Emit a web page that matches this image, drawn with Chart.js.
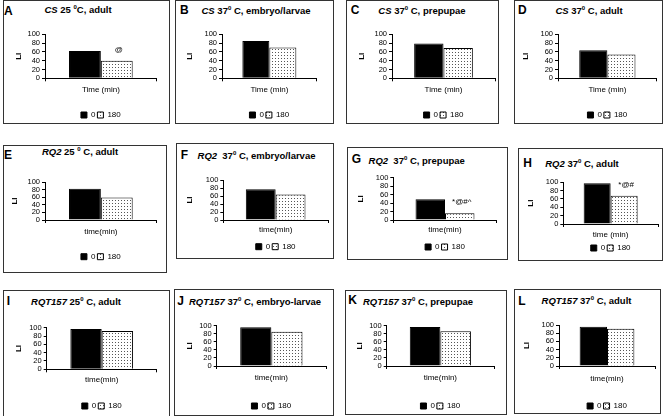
<!DOCTYPE html>
<html>
<head>
<meta charset="utf-8">
<script src="https://cdn.jsdelivr.net/npm/chart.js@4.4.1/dist/chart.umd.min.js"></script>
<style>
body { margin: 0; background: #fff; width: 664px; height: 416px; position: relative; overflow: hidden; font-family: "Liberation Sans", Arial, sans-serif; color: #000; }
.box { position: absolute; border: 1px solid #333; box-sizing: border-box; }
.ttl { position: absolute; transform: translate(-50%, -50%); font-weight: bold; font-size: 9.5px; white-space: nowrap; }
.ttl sup { font-size: 6px; vertical-align: 4px; line-height: 0; }
.let { position: absolute; transform: translateY(-50%); font-weight: bold; font-size: 12px; line-height: 1; }
canvas { position: absolute; }
</style>
</head>
<body>
<script>
// data
const panelLetters = ['A', 'B', 'C', 'D', 'E', 'F', 'G', 'H', 'I', 'J', 'K', 'L'];
const panelTitles = [
    '<i>CS</i> 25 <sup>0</sup>C, adult',
    '<i>CS</i> 37<sup>0</sup> C, embryo/larvae',
    '<i>CS</i> 37<sup>0</sup> C, prepupae',
    '<i>CS</i> 37<sup>0</sup> C, adult',
    '<i>RQ2</i> 25 <sup>0</sup> C, adult',
    '<i>RQ2</i>&nbsp; 37<sup>0</sup> C, embryo/larvae',
    '<i>RQ2</i>&nbsp; 37<sup>0</sup> C, prepupae',
    '<i>RQ2</i> 37<sup>0</sup> C, adult',
    '<i>RQT157</i> 25<sup>0</sup> C, adult',
    '<i>RQT157</i> 37<sup>0</sup> C, embryo-larvae',
    '<i>RQT157</i> 37<sup>0</sup> C, prepupae',
    '<i>RQT157</i> 37<sup>0</sup> C, adult'
];
const timeLabels = ['Time (min)', 'Time (min)', 'Time (min)', 'Time (min)',
    'time(min)', 'time(min)', 'time(min)', 'time (min)',
    'time(min)', 'time(min)', 'time(min)', 'time(min)'];
const minutes = ['0', '180'];
const li0 = [62, 85, 79, 64, 82, 77, 49, 98, 97, 96, 97, 96];
const li180 = [40, 70, 69, 54, 59, 64, 16, 68, 92, 85, 86, 91];
const marks = ['@', '', '', '', '', '', '*@#^', '*@#', '', '', '', ''];
const yMax = 100;
const yStep = 20;

// layout of each panel (page pixels)
// box: border x0,y0,x1,y1 / frame: y axis x, y of max, x axis end, y of zero
const boxes = [
    [3, 0, 169, 123], [175, 0, 333, 123], [346, 0, 498, 123], [514, 0, 662, 123],
    [3, 145, 166, 272], [176, 143, 333, 258], [347, 147, 507, 259], [518, 148, 662, 260],
    [3, 290, 169, 416], [174, 289, 333, 415], [345, 290, 506, 414], [514, 289, 660, 413]
];
const frames = [
    [45, 34.3, 156.7, 78.3], [222, 34.3, 316.7, 78.3], [392, 34.3, 495, 78.3], [558, 34.3, 656.7, 78.3],
    [45, 182, 156.7, 220], [223.3, 180, 328, 220], [393.3, 177.7, 496.7, 220], [563.3, 182.3, 658, 224],
    [46.7, 327.7, 156.7, 369.3], [216.7, 325.7, 326, 366], [386.7, 325.7, 494, 366], [559, 325, 655, 366]
];
// LI x, x title y, legend y, title x, title y, letter x, letter y
const spots = [
    [18.3, 90, 115, 78, 9, 4, 11], [189.3, 90, 115, 256, 9.7, 180, 10],
    [361.7, 90, 115, 422, 9.7, 350.7, 10], [525.7, 90, 115, 589, 9.7, 518, 10],
    [15, 231.7, 256.7, 80, 150.7, 4, 155], [190, 230, 246.7, 256.5, 155, 180.7, 155],
    [360.7, 230, 247, 416.7, 160, 351.7, 159.3], [531, 235, 248, 582, 163.3, 523.3, 163.3],
    [18.3, 380, 406, 76, 300.7, 6.7, 300.7], [190, 378, 406, 255, 300.7, 177.3, 300.7],
    [360, 378, 406, 418, 300.7, 348.3, 300], [526.7, 379, 406, 586.5, 300, 518.3, 300.7]
];

Chart.defaults.font.family = '"Liberation Sans", Arial, sans-serif';
Chart.defaults.color = '#000';

function dotPattern() {
    const c = document.createElement('canvas');
    c.width = 3;
    c.height = 3;
    const g = c.getContext('2d');
    g.fillStyle = '#fff';
    g.fillRect(0, 0, 3, 3);
    g.fillStyle = '#555';
    g.fillRect(1, 1, 1, 1);
    return g.createPattern(c, 'repeat');
}

// significance marks above the 180 min bar
const marksPlugin = {
    id: 'marks',
    afterDatasetsDraw(chart, args, opts) {
        if (!opts.text) return;
        const bar = chart.getDatasetMeta(1).data[0];
        const ctx = chart.ctx;
        ctx.save();
        ctx.font = '8px "Liberation Sans", Arial, sans-serif';
        ctx.fillStyle = '#000';
        ctx.textAlign = 'center';
        ctx.textBaseline = 'middle';
        ctx.fillText(opts.text, bar.x + 2, bar.y - 11);
        ctx.restore();
    }
};

const legendItemH = 8, legendPad = 2;
const legendH = legendItemH + legendPad + 10;

panelLetters.forEach(function (letter, i) {
    const [x0, y0, x1, y1] = boxes[i];
    const [ax, top, ax1, bottom] = frames[i];
    const [liX, xtY, lgY, tX, tY, lX, lY] = spots[i];

    const box = document.createElement('div');
    box.className = 'box';
    box.style.left = x0 + 'px';
    box.style.top = y0 + 'px';
    box.style.width = (x1 - x0 + 1) + 'px';
    box.style.height = (y1 - y0 + 1) + 'px';
    document.body.appendChild(box);

    const lab = document.createElement('div');
    lab.className = 'let';
    lab.style.left = lX + 'px';
    lab.style.top = lY + 'px';
    lab.textContent = letter;
    document.body.appendChild(lab);

    const ttl = document.createElement('div');
    ttl.className = 'ttl';
    ttl.style.left = tX + 'px';
    ttl.style.top = tY + 'px';
    ttl.innerHTML = panelTitles[i];
    document.body.appendChild(ttl);

    const w = x1 - x0;
    const xH = lgY - bottom - legendPad - legendItemH / 2;
    const h = Math.ceil(bottom - y0 + xH + legendH);
    const padB = h - (bottom - y0) - xH - legendH;
    const yW = ax - x0;
    const padR = w - (ax1 - x0);

    const cv = document.createElement('canvas');
    cv.width = w;
    cv.height = h;
    cv.style.left = x0 + 'px';
    cv.style.top = y0 + 'px';
    document.body.appendChild(cv);

    new Chart(cv, {
        type: 'bar',
        data: {
            labels: [''],
            datasets: [{
                label: minutes[0],
                data: [li0[i]],
                backgroundColor: '#000',
                borderColor: '#000',
                borderWidth: 1,
                categoryPercentage: 0.57,
                barPercentage: 1
            }, {
                label: minutes[1],
                data: [li180[i]],
                backgroundColor: dotPattern(),
                borderColor: '#000',
                borderWidth: 1,
                categoryPercentage: 0.57,
                barPercentage: 1
            }]
        },
        options: {
            responsive: false,
            animation: false,
            layout: { padding: { left: 0, top: top - y0, right: padR, bottom: padB } },
            plugins: {
                legend: {
                    position: 'bottom',
                    fullSize: false,
                    labels: { boxWidth: 6, boxHeight: 6, padding: legendPad, font: { size: 8 } }
                },
                tooltip: { enabled: false },
                marks: { text: marks[i] }
            },
            scales: {
                x: {
                    grid: { drawOnChartArea: false, tickLength: 3, color: '#000' },
                    border: { color: '#000' },
                    ticks: { display: false },
                    title: {
                        display: true,
                        text: timeLabels[i],
                        font: { size: 8 },
                        padding: { top: 0, bottom: xH - (xtY - bottom) - 4.8 }
                    },
                    afterFit(s) { s.height = xH; s.paddingLeft = 0; s.paddingRight = 0; }
                },
                y: {
                    min: 0,
                    max: yMax,
                    ticks: { stepSize: yStep, autoSkip: false, padding: 2, font: { size: 7.5 } },
                    grid: { drawOnChartArea: false, tickLength: 3, color: '#000' },
                    border: { color: '#000' },
                    title: {
                        display: true,
                        text: 'LI',
                        font: { size: 8, weight: 'bold' },
                        padding: { top: liX - x0 - 4.8, bottom: 0 }
                    },
                    afterFit(s) { s.width = yW; s.paddingTop = 0; s.paddingBottom = 0; }
                }
            }
        },
        plugins: [marksPlugin]
    });
});
</script>
</body>
</html>
